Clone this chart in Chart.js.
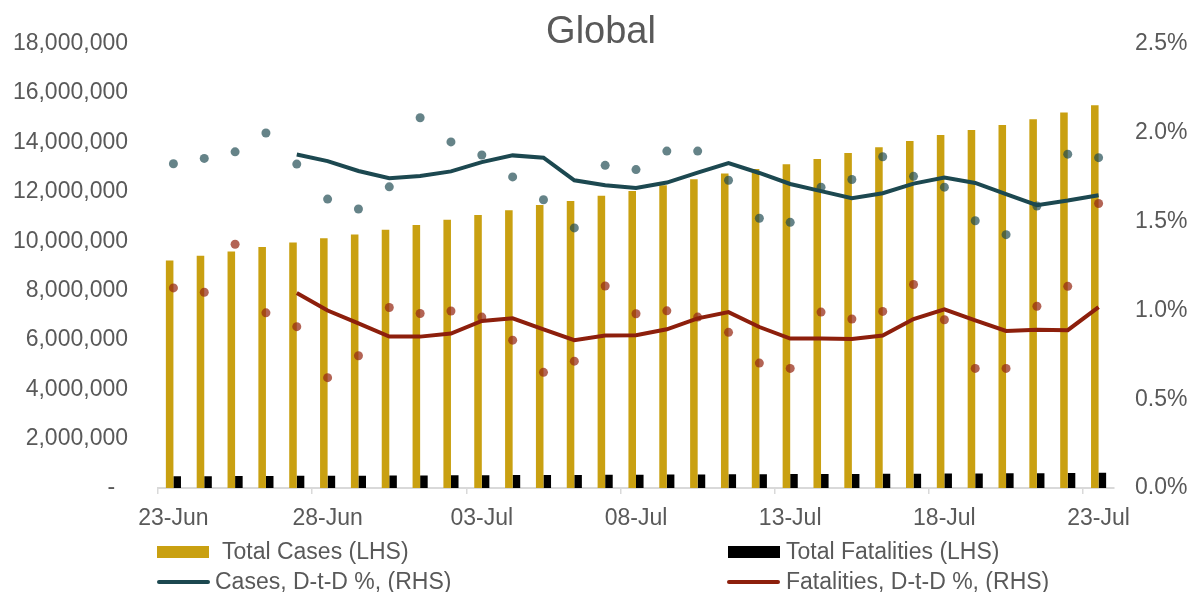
<!DOCTYPE html>
<html>
<head>
<meta charset="utf-8">
<title>Global</title>
<script src="https://cdn.jsdelivr.net/npm/chart.js@4/dist/chart.umd.min.js"></script>
<style>
  html, body { margin: 0; padding: 0; background: #ffffff; }
  #wrap { position: relative; width: 1195px; height: 592px; overflow: hidden; font-family: "Liberation Sans", Arial, sans-serif; color: #595959; }
  #chart { position: absolute; left: 0; top: 0; }
  #title { position: absolute; left: 0; width: 1202px; top: 11px; text-align: center; font-size: 38px; line-height: 38px; }
  .lg { position: absolute; font-size: 23px; line-height: 23px; white-space: nowrap; }
  .sw { position: absolute; }
</style>
</head>
<body>
<div id="wrap">
  <canvas id="chart" width="1195" height="592"></canvas>
  <div id="title">Global</div>
  <div id="legend"></div>
</div>
<script>
// Dates on the category axis
const days = ['23-Jun','24-Jun','25-Jun','26-Jun','27-Jun','28-Jun','29-Jun','30-Jun',
  '01-Jul','02-Jul','03-Jul','04-Jul','05-Jul','06-Jul','07-Jul','08-Jul','09-Jul','10-Jul',
  '11-Jul','12-Jul','13-Jul','14-Jul','15-Jul','16-Jul','17-Jul','18-Jul','19-Jul','20-Jul',
  '21-Jul','22-Jul','23-Jul'];

// Cumulative totals (LHS)
const totalCases = [9220000, 9410000, 9580000, 9770000, 9950000, 10120000, 10270000, 10460000,
  10660000, 10870000, 11060000, 11260000, 11470000, 11630000, 11840000, 12040000, 12270000,
  12510000, 12740000, 12930000, 13120000, 13330000, 13570000, 13810000, 14060000, 14300000,
  14510000, 14710000, 14940000, 15220000, 15510000];
const totalFatalities = [472000, 477000, 482000, 487000, 492000, 496000, 499000, 503000,
  508000, 513000, 518000, 522000, 526000, 529000, 533000, 539000, 544000, 549000, 554000,
  559000, 563000, 567000, 571000, 576000, 582000, 587000, 591000, 595000, 601000, 608000, 618000];

// Day-to-day growth, % (RHS): daily points and smoothed lines
const casesDaily = [1.825, 1.855, 1.892, 1.998, 1.823, 1.626, 1.570, 1.695, 2.084, 1.948, 1.874,
  1.751, 1.622, 1.464, 1.816, 1.792, 1.896, 1.896, 1.732, 1.518, 1.495, 1.693, 1.736, 1.864,
  1.754, 1.693, 1.504, 1.426, 1.587, 1.879, 1.859];
const casesDtD = [null, null, null, null, 1.877, 1.840, 1.784, 1.743, 1.756, 1.782, 1.834, 1.872,
  1.859, 1.732, 1.704, 1.689, 1.719, 1.775, 1.829, 1.773, 1.711, 1.671, 1.631, 1.659, 1.713,
  1.747, 1.717, 1.654, 1.592, 1.618, 1.648];
const fatalDaily = [1.126, 1.102, 1.372, 0.986, 0.908, 0.621, 0.744, 1.016, 0.982, 0.996, 0.962,
  0.832, 0.651, 0.714, 1.137, 0.981, 0.997, 0.962, 0.876, 0.703, 0.673, 0.990, 0.951, 0.994,
  1.145, 0.947, 0.673, 0.673, 1.023, 1.135, 1.601];
const fatalDtD = [null, null, null, null, 1.098, 0.999, 0.927, 0.852, 0.852, 0.869, 0.940, 0.955,
  0.893, 0.832, 0.858, 0.860, 0.893, 0.955, 0.990, 0.906, 0.841, 0.841, 0.839, 0.858, 0.951,
  1.005, 0.943, 0.884, 0.891, 0.888, 1.018];

// Axis ticks
const leftTicks = [0, 2000000, 4000000, 6000000, 8000000, 10000000, 12000000, 14000000, 16000000, 18000000];
const rightTicks = [0, 0.5, 1.0, 1.5, 2.0, 2.5];

const TEXT = '#595959';
const GOLD = '#c9a011';
const BLACK = '#000000';
const TEAL = '#1c4850';
const RUST = '#8d1f0c';
const FONT = { family: '"Liberation Sans", Arial, sans-serif', size: 23 };

new Chart(document.getElementById('chart'), {
  data: {
    labels: days,
    datasets: [
      { type: 'line', label: 'Cases, D-t-D %, (RHS)', data: casesDtD, yAxisID: 'y1', order: 0,
        borderColor: TEAL, borderWidth: 4, pointRadius: 0, tension: 0, fill: false },
      { type: 'line', label: 'Fatalities, D-t-D %, (RHS)', data: fatalDtD, yAxisID: 'y1', order: 0,
        borderColor: RUST, borderWidth: 4, pointRadius: 0, tension: 0, fill: false },
      { type: 'line', label: 'Cases daily', data: casesDaily, yAxisID: 'y1', order: 1, showLine: false,
        pointRadius: 4.5, pointBorderWidth: 0, pointBackgroundColor: 'rgba(28,72,80,0.68)' },
      { type: 'line', label: 'Fatalities daily', data: fatalDaily, yAxisID: 'y1', order: 1, showLine: false,
        pointRadius: 4.5, pointBorderWidth: 0, pointBackgroundColor: 'rgba(150,40,20,0.72)' },
      { type: 'bar', label: 'Total Cases (LHS)', data: totalCases, yAxisID: 'y', order: 2,
        backgroundColor: GOLD, categoryPercentage: 0.49, barPercentage: 1.0 },
      { type: 'bar', label: 'Total Fatalities (LHS)', data: totalFatalities, yAxisID: 'y', order: 2,
        backgroundColor: BLACK, categoryPercentage: 0.49, barPercentage: 1.0 }
    ]
  },
  options: {
    responsive: false,
    animation: false,
    devicePixelRatio: 1,
    layout: { padding: { top: 41, left: 0, right: 0, bottom: 0 } },
    plugins: { legend: { display: false }, title: { display: false }, tooltip: { enabled: false } },
    scales: {
      x: {
        type: 'category',
        offset: true,
        afterFit: (s) => { s.height = 104; },
        grid: {
          display: true, drawOnChartArea: false, offset: true, tickLength: 6, lineWidth: 1.5,
          tickColor: (ctx) => (ctx.index !== undefined && ctx.index % 5 === 0 && ctx.index < days.length) ? '#d9d9d9' : 'rgba(0,0,0,0)',
          color: 'rgba(0,0,0,0)'
        },
        border: { display: true, color: '#d9d9d9', width: 2 },
        ticks: {
          autoSkip: false, maxRotation: 0, minRotation: 0, padding: 11, color: TEXT, font: FONT,
          callback: (v, i) => (i % 5 === 0 ? days[i] : '')
        }
      },
      y: {
        position: 'left',
        min: leftTicks[0], max: leftTicks[leftTicks.length - 1],
        afterFit: (s) => { s.width = 158; },
        afterBuildTicks: (s) => { s.ticks = leftTicks.map(v => ({ value: v })); },
        grid: { display: false, drawTicks: false },
        border: { display: false },
        ticks: {
          padding: 30, color: TEXT, font: FONT,
          callback: (v) => (v === 0 ? '-  ' : Number(v).toLocaleString('en-US'))
        }
      },
      y1: {
        position: 'right',
        min: rightTicks[0], max: rightTicks[rightTicks.length - 1],
        afterFit: (s) => { s.width = 81; },
        afterBuildTicks: (s) => { s.ticks = rightTicks.map(v => ({ value: v })); },
        grid: { display: false, drawTicks: false },
        border: { display: false },
        ticks: {
          padding: 21, color: TEXT, font: FONT,
          callback: (v) => Number(v).toFixed(1) + '%'
        }
      }
    }
  }
});

// Two-column legend below the axis
const legendItems = [
  { text: 'Total Cases (LHS)', kind: 'box', color: GOLD, sx: 157, tx: 222, cy: 552 },
  { text: 'Total Fatalities (LHS)', kind: 'box', color: BLACK, sx: 728, tx: 786, cy: 552 },
  { text: 'Cases, D-t-D %, (RHS)', kind: 'line', color: TEAL, sx: 157, tx: 215, cy: 582 },
  { text: 'Fatalities, D-t-D %, (RHS)', kind: 'line', color: RUST, sx: 727, tx: 786, cy: 582 }
];
const legend = document.getElementById('legend');
legendItems.forEach(it => {
  const sw = document.createElement('div');
  sw.className = 'sw';
  if (it.kind === 'box') {
    sw.style.cssText = `left:${it.sx}px;top:${it.cy - 6}px;width:52px;height:12px;background:${it.color};`;
  } else {
    sw.style.cssText = `left:${it.sx}px;top:${it.cy - 2}px;width:53px;height:4px;border-radius:2px;background:${it.color};`;
  }
  legend.appendChild(sw);
  const t = document.createElement('div');
  t.className = 'lg';
  t.textContent = it.text;
  t.style.left = it.tx + 'px';
  t.style.top = (it.cy - 12) + 'px';
  legend.appendChild(t);
});
</script>
</body>
</html>
